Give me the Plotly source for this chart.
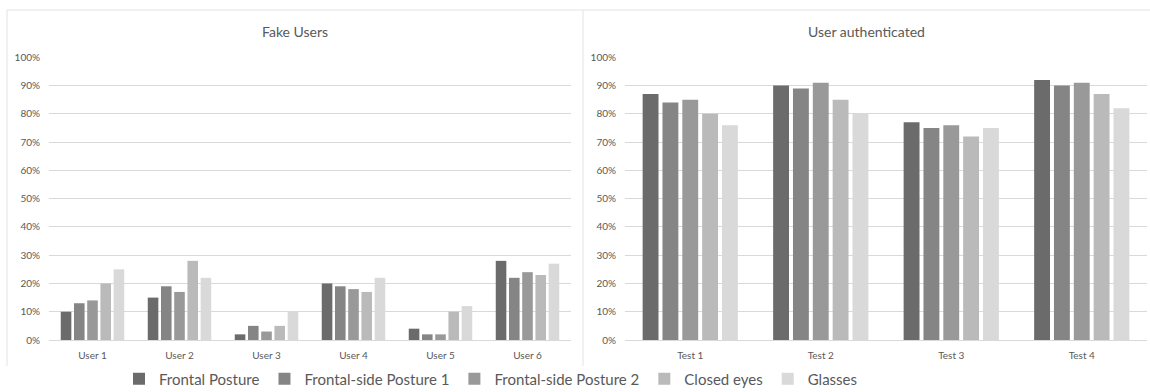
import plotly.graph_objects as go
from plotly.subplots import make_subplots

users = ["User 1", "User 2", "User 3", "User 4", "User 5", "User 6"]
tests = ["Test 1", "Test 2", "Test 3", "Test 4"]
series = ["Frontal Posture", "Frontal-side Posture 1", "Frontal-side Posture 2", "Closed eyes", "Glasses"]
colors = ["#6b6b6b", "#858585", "#999999", "#bababa", "#d9d9d9"]

fake_frontal = [0.10, 0.15, 0.02, 0.20, 0.04, 0.28]
fake_side1 = [0.13, 0.19, 0.05, 0.19, 0.02, 0.22]
fake_side2 = [0.14, 0.17, 0.03, 0.18, 0.02, 0.24]
fake_closed = [0.20, 0.28, 0.05, 0.17, 0.10, 0.23]
fake_glasses = [0.25, 0.22, 0.10, 0.22, 0.12, 0.27]

auth_frontal = [0.87, 0.90, 0.77, 0.92]
auth_side1 = [0.84, 0.89, 0.75, 0.90]
auth_side2 = [0.85, 0.91, 0.76, 0.91]
auth_closed = [0.80, 0.85, 0.72, 0.87]
auth_glasses = [0.76, 0.80, 0.75, 0.82]

fake = [fake_frontal, fake_side1, fake_side2, fake_closed, fake_glasses]
auth = [auth_frontal, auth_side1, auth_side2, auth_closed, auth_glasses]

W, H = 1150, 392
FONT = "Lato"
TXT = "#595959"
GRID = "#d9d9d9"

fig = make_subplots(rows=1, cols=2)
for i, name in enumerate(series):
    fig.add_trace(go.Bar(x=users, y=fake[i], name=name, marker_color=colors[i],
                         marker_line_width=0, legendgroup=name), row=1, col=1)
    fig.add_trace(go.Bar(x=tests, y=auth[i], name=name, marker_color=colors[i],
                         marker_line_width=0, legendgroup=name, showlegend=False), row=1, col=2)

y0 = 1 - 340 / H
y1 = 1 - 57.3 / H
axis_y = dict(range=[0, 1], dtick=0.1, tickformat=".0%", showgrid=True, gridcolor=GRID,
              gridwidth=1, zeroline=False, showline=False, ticks="", ticklabelstandoff=8,
              automargin=False,
              tickfont=dict(family=FONT, size=10, color=TXT), domain=[y0, y1])
axis_x = dict(showgrid=False, showline=True, linecolor=GRID, linewidth=1, ticks="",
              automargin=False, ticklabelstandoff=6,
              tickfont=dict(family=FONT, size=10, color=TXT))
fig.update_layout(
    template="none",
    width=W, height=H,
    margin=dict(l=0, r=0, t=0, b=0, autoexpand=False),
    paper_bgcolor="white", plot_bgcolor="white",
    barmode="group", bargap=0.24, bargroupgap=0.2,
    font=dict(family=FONT, color=TXT),
    xaxis=dict(axis_x, domain=[49 / W, 571 / W]),
    xaxis2=dict(axis_x, domain=[625 / W, 1147 / W]),
    yaxis=axis_y, yaxis2=axis_y,
    legend=dict(orientation="h", x=491 / W, xanchor="center", y=1 - 379 / H, yanchor="middle",
                font=dict(family=FONT, size=15, color=TXT), itemwidth=30,
                traceorder="normal", bgcolor="rgba(0,0,0,0)"),
    showlegend=True,
)

# panel titles
fig.add_annotation(text="Fake Users", x=295 / W, y=1 - 32 / H, xref="paper", yref="paper",
                   xanchor="center", yanchor="middle",
                   showarrow=False, font=dict(family=FONT, size=14, color=TXT))
fig.add_annotation(text="User authenticated", x=866 / W, y=1 - 32 / H, xref="paper", yref="paper",
                   xanchor="center", yanchor="middle",
                   showarrow=False, font=dict(family=FONT, size=14, color=TXT))

# panel frames
def line(xa, ya, xb, yb):
    fig.add_shape(type="line", xref="paper", yref="paper", x0=xa / W, y0=1 - ya / H,
                  x1=xb / W, y1=1 - yb / H, line=dict(color="#e3e3e3", width=1))

line(7, 10, 1150, 10)
line(7, 10, 7, 366)
line(583, 10, 583, 366)

fig.write_html("out.html", config={"displayModeBar": False},
               post_script="document.body.style.margin='0';document.body.style.overflow='hidden';")
